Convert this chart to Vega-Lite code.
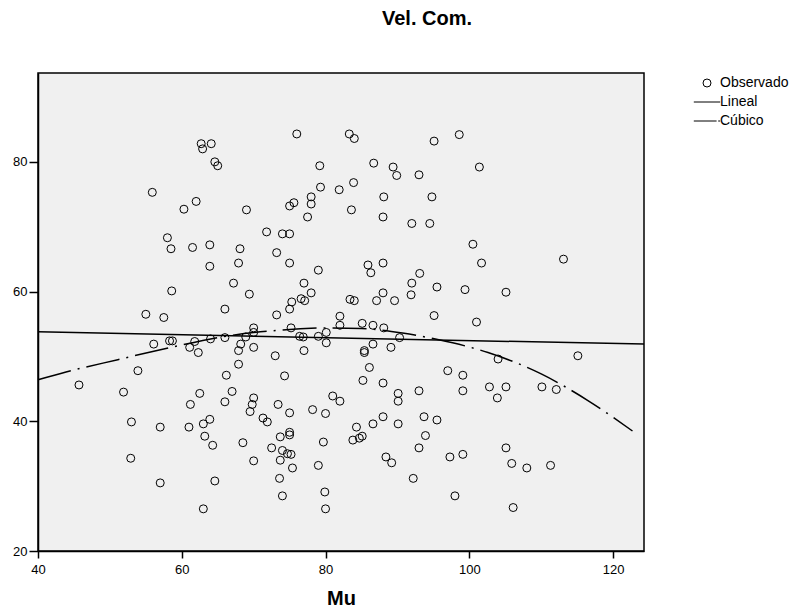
{
  "$schema": "https://vega.github.io/schema/vega-lite/v6.json",
  "width": 606,
  "height": 478,
  "autosize": {"type": "none"},
  "padding": {"left": 38, "top": 73, "right": 157, "bottom": 62},
  "background": "white",
  "title": {"text": "Vel. Com.", "fontSize": 20, "fontWeight": "bold", "font": "Liberation Sans", "anchor": "middle", "dx": 86, "offset": 44, "color": "black"},
  "datasets": {
    "obs": [
    {"mu":76.0,"vel":84.3},{"mu":62.7,"vel":82.8},{"mu":64.1,"vel":82.8},{"mu":62.9,"vel":82.0},{"mu":64.6,"vel":80.0},
    {"mu":65.0,"vel":79.4},{"mu":79.2,"vel":79.4},{"mu":55.9,"vel":75.3},{"mu":79.3,"vel":76.1},{"mu":81.9,"vel":75.7},
    {"mu":62.0,"vel":73.9},{"mu":60.3,"vel":72.7},{"mu":69.0,"vel":72.6},{"mu":75.6,"vel":73.7},{"mu":75.0,"vel":73.2},
    {"mu":78.0,"vel":74.6},{"mu":78.0,"vel":73.5},{"mu":77.5,"vel":71.5},{"mu":71.8,"vel":69.2},{"mu":74.0,"vel":68.9},
    {"mu":75.0,"vel":68.9},{"mu":58.0,"vel":68.3},{"mu":58.5,"vel":66.6},{"mu":61.5,"vel":66.8},{"mu":63.9,"vel":67.2},
    {"mu":68.1,"vel":66.6},{"mu":73.2,"vel":66.0},{"mu":63.9,"vel":63.9},{"mu":67.9,"vel":64.4},{"mu":75.0,"vel":64.4},
    {"mu":79.0,"vel":63.3},{"mu":58.6,"vel":60.1},{"mu":67.2,"vel":61.3},{"mu":69.4,"vel":59.6},{"mu":77.0,"vel":61.3},
    {"mu":78.0,"vel":59.8},{"mu":75.3,"vel":58.4},{"mu":76.6,"vel":58.9},{"mu":77.1,"vel":58.6},{"mu":66.0,"vel":57.3},
    {"mu":75.0,"vel":57.3},{"mu":55.0,"vel":56.5},{"mu":73.2,"vel":56.4},{"mu":57.5,"vel":56.0},
    {"mu":83.3,"vel":84.3},{"mu":84.0,"vel":83.6},{"mu":95.1,"vel":83.2},{"mu":98.6,"vel":84.2},{"mu":86.7,"vel":79.8},
    {"mu":89.4,"vel":79.2},{"mu":89.9,"vel":77.9},{"mu":93.0,"vel":78.0},{"mu":101.4,"vel":79.2},{"mu":83.9,"vel":76.8},
    {"mu":88.1,"vel":74.6},{"mu":94.8,"vel":74.6},{"mu":83.6,"vel":72.6},{"mu":88.0,"vel":71.5},{"mu":92.0,"vel":70.5},
    {"mu":94.5,"vel":70.5},{"mu":100.5,"vel":67.3},{"mu":85.9,"vel":64.1},{"mu":86.3,"vel":62.9},{"mu":88.0,"vel":64.4},
    {"mu":101.7,"vel":64.4},{"mu":113.1,"vel":65.0},{"mu":93.1,"vel":62.8},{"mu":92.0,"vel":61.3},{"mu":95.5,"vel":60.7},
    {"mu":99.4,"vel":60.3},{"mu":105.1,"vel":59.9},{"mu":88.0,"vel":59.8},{"mu":91.9,"vel":59.5},{"mu":83.4,"vel":58.8},
    {"mu":84.0,"vel":58.6},{"mu":87.1,"vel":58.6},{"mu":89.6,"vel":58.6},{"mu":95.1,"vel":56.3},
    {"mu":82.0,"vel":56.2},{"mu":82.0,"vel":54.8},
    {"mu":101.0,"vel":55.3},{"mu":85.1,"vel":55.1},{"mu":86.6,"vel":54.8},{"mu":88.1,"vel":54.4},{"mu":90.3,"vel":52.9},
    {"mu":86.6,"vel":51.9},{"mu":89.1,"vel":51.4},{"mu":85.4,"vel":50.9},{"mu":85.4,"vel":50.6},{"mu":115.1,"vel":50.1},
    {"mu":104.0,"vel":49.6},{"mu":86.1,"vel":48.3},{"mu":97.0,"vel":47.8},{"mu":99.1,"vel":47.1},{"mu":85.2,"vel":46.3},
    {"mu":88.0,"vel":45.9},{"mu":93.0,"vel":44.7},{"mu":90.1,"vel":44.3},{"mu":90.1,"vel":43.1},{"mu":99.1,"vel":44.7},
    {"mu":102.8,"vel":45.3},{"mu":105.1,"vel":45.3},{"mu":103.9,"vel":43.6},{"mu":110.1,"vel":45.3},{"mu":112.1,"vel":44.9},
    {"mu":82.0,"vel":43.1},{"mu":88.0,"vel":40.7},{"mu":93.7,"vel":40.7},{"mu":95.5,"vel":40.2},{"mu":86.6,"vel":39.6},
    {"mu":90.1,"vel":39.6},{"mu":84.3,"vel":39.1},{"mu":93.9,"vel":37.8},{"mu":85.1,"vel":37.7},{"mu":84.7,"vel":37.4},
    {"mu":83.8,"vel":37.1},{"mu":93.0,"vel":35.9},{"mu":105.1,"vel":35.9},{"mu":88.4,"vel":34.5},{"mu":89.2,"vel":33.6},
    {"mu":97.3,"vel":34.5},{"mu":99.1,"vel":34.9},{"mu":105.9,"vel":33.5},{"mu":108.0,"vel":32.8},{"mu":111.3,"vel":33.2},
    {"mu":92.2,"vel":31.2},{"mu":98.0,"vel":28.5},{"mu":106.1,"vel":26.7},
    {"mu":70.0,"vel":54.4},{"mu":70.0,"vel":53.7},{"mu":75.2,"vel":54.4},{"mu":80.1,"vel":53.7},{"mu":58.3,"vel":52.4},
    {"mu":58.7,"vel":52.4},{"mu":56.1,"vel":51.9},{"mu":61.8,"vel":52.3},{"mu":64.0,"vel":52.7},{"mu":66.0,"vel":52.9},
    {"mu":68.9,"vel":53.0},{"mu":61.1,"vel":51.4},{"mu":62.3,"vel":50.6},{"mu":68.2,"vel":51.9},{"mu":67.9,"vel":50.9},
    {"mu":70.0,"vel":51.4},{"mu":76.4,"vel":53.1},{"mu":76.9,"vel":53.0},{"mu":79.0,"vel":53.1},{"mu":80.1,"vel":52.1},
    {"mu":77.0,"vel":50.9},{"mu":73.0,"vel":50.1},{"mu":67.9,"vel":48.8},{"mu":74.3,"vel":47.0},{"mu":66.2,"vel":47.1},
    {"mu":53.9,"vel":47.8},{"mu":45.7,"vel":45.6},{"mu":51.9,"vel":44.5},{"mu":62.5,"vel":44.3},{"mu":67.0,"vel":44.6},
    {"mu":61.2,"vel":42.6},{"mu":66.0,"vel":43.0},{"mu":70.0,"vel":43.6},{"mu":69.8,"vel":42.6},{"mu":69.5,"vel":41.5},
    {"mu":73.4,"vel":42.6},{"mu":75.0,"vel":41.3},{"mu":78.2,"vel":41.8},{"mu":80.0,"vel":41.2},{"mu":81.0,"vel":43.9},
    {"mu":53.0,"vel":39.9},{"mu":57.0,"vel":39.1},{"mu":61.0,"vel":39.1},{"mu":63.0,"vel":39.6},{"mu":63.9,"vel":40.3},
    {"mu":71.3,"vel":40.5},{"mu":71.9,"vel":39.9},{"mu":63.2,"vel":37.7},{"mu":64.3,"vel":36.3},{"mu":68.5,"vel":36.7},
    {"mu":73.7,"vel":37.6},{"mu":75.0,"vel":38.3},{"mu":75.0,"vel":37.9},{"mu":72.5,"vel":35.9},{"mu":74.0,"vel":35.5},
    {"mu":74.7,"vel":35.0},{"mu":75.2,"vel":34.9},{"mu":73.7,"vel":34.0},{"mu":70.0,"vel":33.9},{"mu":75.4,"vel":32.8},
    {"mu":79.7,"vel":36.8},{"mu":79.0,"vel":33.2},{"mu":52.9,"vel":34.3},{"mu":57.0,"vel":30.5},{"mu":64.6,"vel":30.8},
    {"mu":73.6,"vel":31.2},{"mu":74.0,"vel":28.5},{"mu":79.9,"vel":29.1},{"mu":80.0,"vel":26.5},{"mu":63.0,"vel":26.5}
    ],
    "lineal": [{"mu": 40, "vel": 53.8}, {"mu": 124.3, "vel": 51.9}],
    "cubico": [
      {"mu": 40, "vel": 46.4}, {"mu": 43.9, "vel": 47.6}, {"mu": 51.1, "vel": 49.5}, {"mu": 58.5, "vel": 51.4},
      {"mu": 65.5, "vel": 53.0}, {"mu": 73.1, "vel": 54.0}, {"mu": 80.8, "vel": 54.4}, {"mu": 85.0, "vel": 54.3},
      {"mu": 90.7, "vel": 53.6}, {"mu": 95.6, "vel": 52.6}, {"mu": 102.6, "vel": 50.6}, {"mu": 110.0, "vel": 47.3},
      {"mu": 116.5, "vel": 43.2}, {"mu": 122.7, "vel": 38.5}
    ]
  },
  "encoding": {
    "x": {"field": "mu", "type": "quantitative", "scale": {"domain": [40, 124.3], "nice": false, "zero": false},
      "axis": {"values": [40, 60, 80, 100, 120], "title": "Mu", "tickSize": 7, "labelPadding": 5, "titlePadding": 12, "labelFlush": false}},
    "y": {"field": "vel", "type": "quantitative", "scale": {"domain": [20, 93.7], "nice": false, "zero": false},
      "axis": {"values": [20, 40, 60, 80], "title": null, "tickSize": 9, "labelPadding": 2, "labelFlush": false}}
  },
  "layer": [
    {
      "data": {"name": "obs"},
      "mark": {"type": "point", "filled": false, "stroke": "black", "strokeWidth": 1, "size": 64, "opacity": 1},
      "encoding": {
        "shape": {"datum": "Observado", "scale": {"domain": ["Observado", "Lineal", "Cúbico"], "range": ["circle", "M-3.3,0H3.3", "M-3.3,0H2.4M2.8,0H3.3"]},
          "legend": {"title": null, "orient": "none", "legendX": 662, "legendY": 3, "symbolSize": 64, "symbolStrokeColor": "black", "symbolFillColor": "transparent", "symbolStrokeWidth": 1, "labelFontSize": 14, "labelFont": "Liberation Sans", "labelColor": "black", "labelOffset": 6, "rowPadding": 5, "padding": 0, "direction": "vertical"}}
      }
    },
    {
      "data": {"name": "lineal"},
      "mark": {"type": "line", "stroke": "black", "strokeWidth": 1.5},
      "encoding": {}
    },
    {
      "data": {"name": "cubico"},
      "mark": {"type": "line", "stroke": "black", "strokeWidth": 1.5, "strokeDash": [34, 7, 2, 7], "interpolate": "monotone"},
      "encoding": {}
    }
  ],
  "config": {
    "view": {"fill": "#f0f0f0", "stroke": "black", "strokeWidth": 1.5},
    "axis": {"grid": false, "domainColor": "black", "domainWidth": 1.5, "tickColor": "black", "tickWidth": 1.5,
      "labelFont": "Liberation Sans", "labelFontSize": 13, "labelColor": "black",
      "titleFont": "Liberation Sans", "titleFontSize": 20, "titleFontWeight": "bold", "titleColor": "black"}
  }
}
